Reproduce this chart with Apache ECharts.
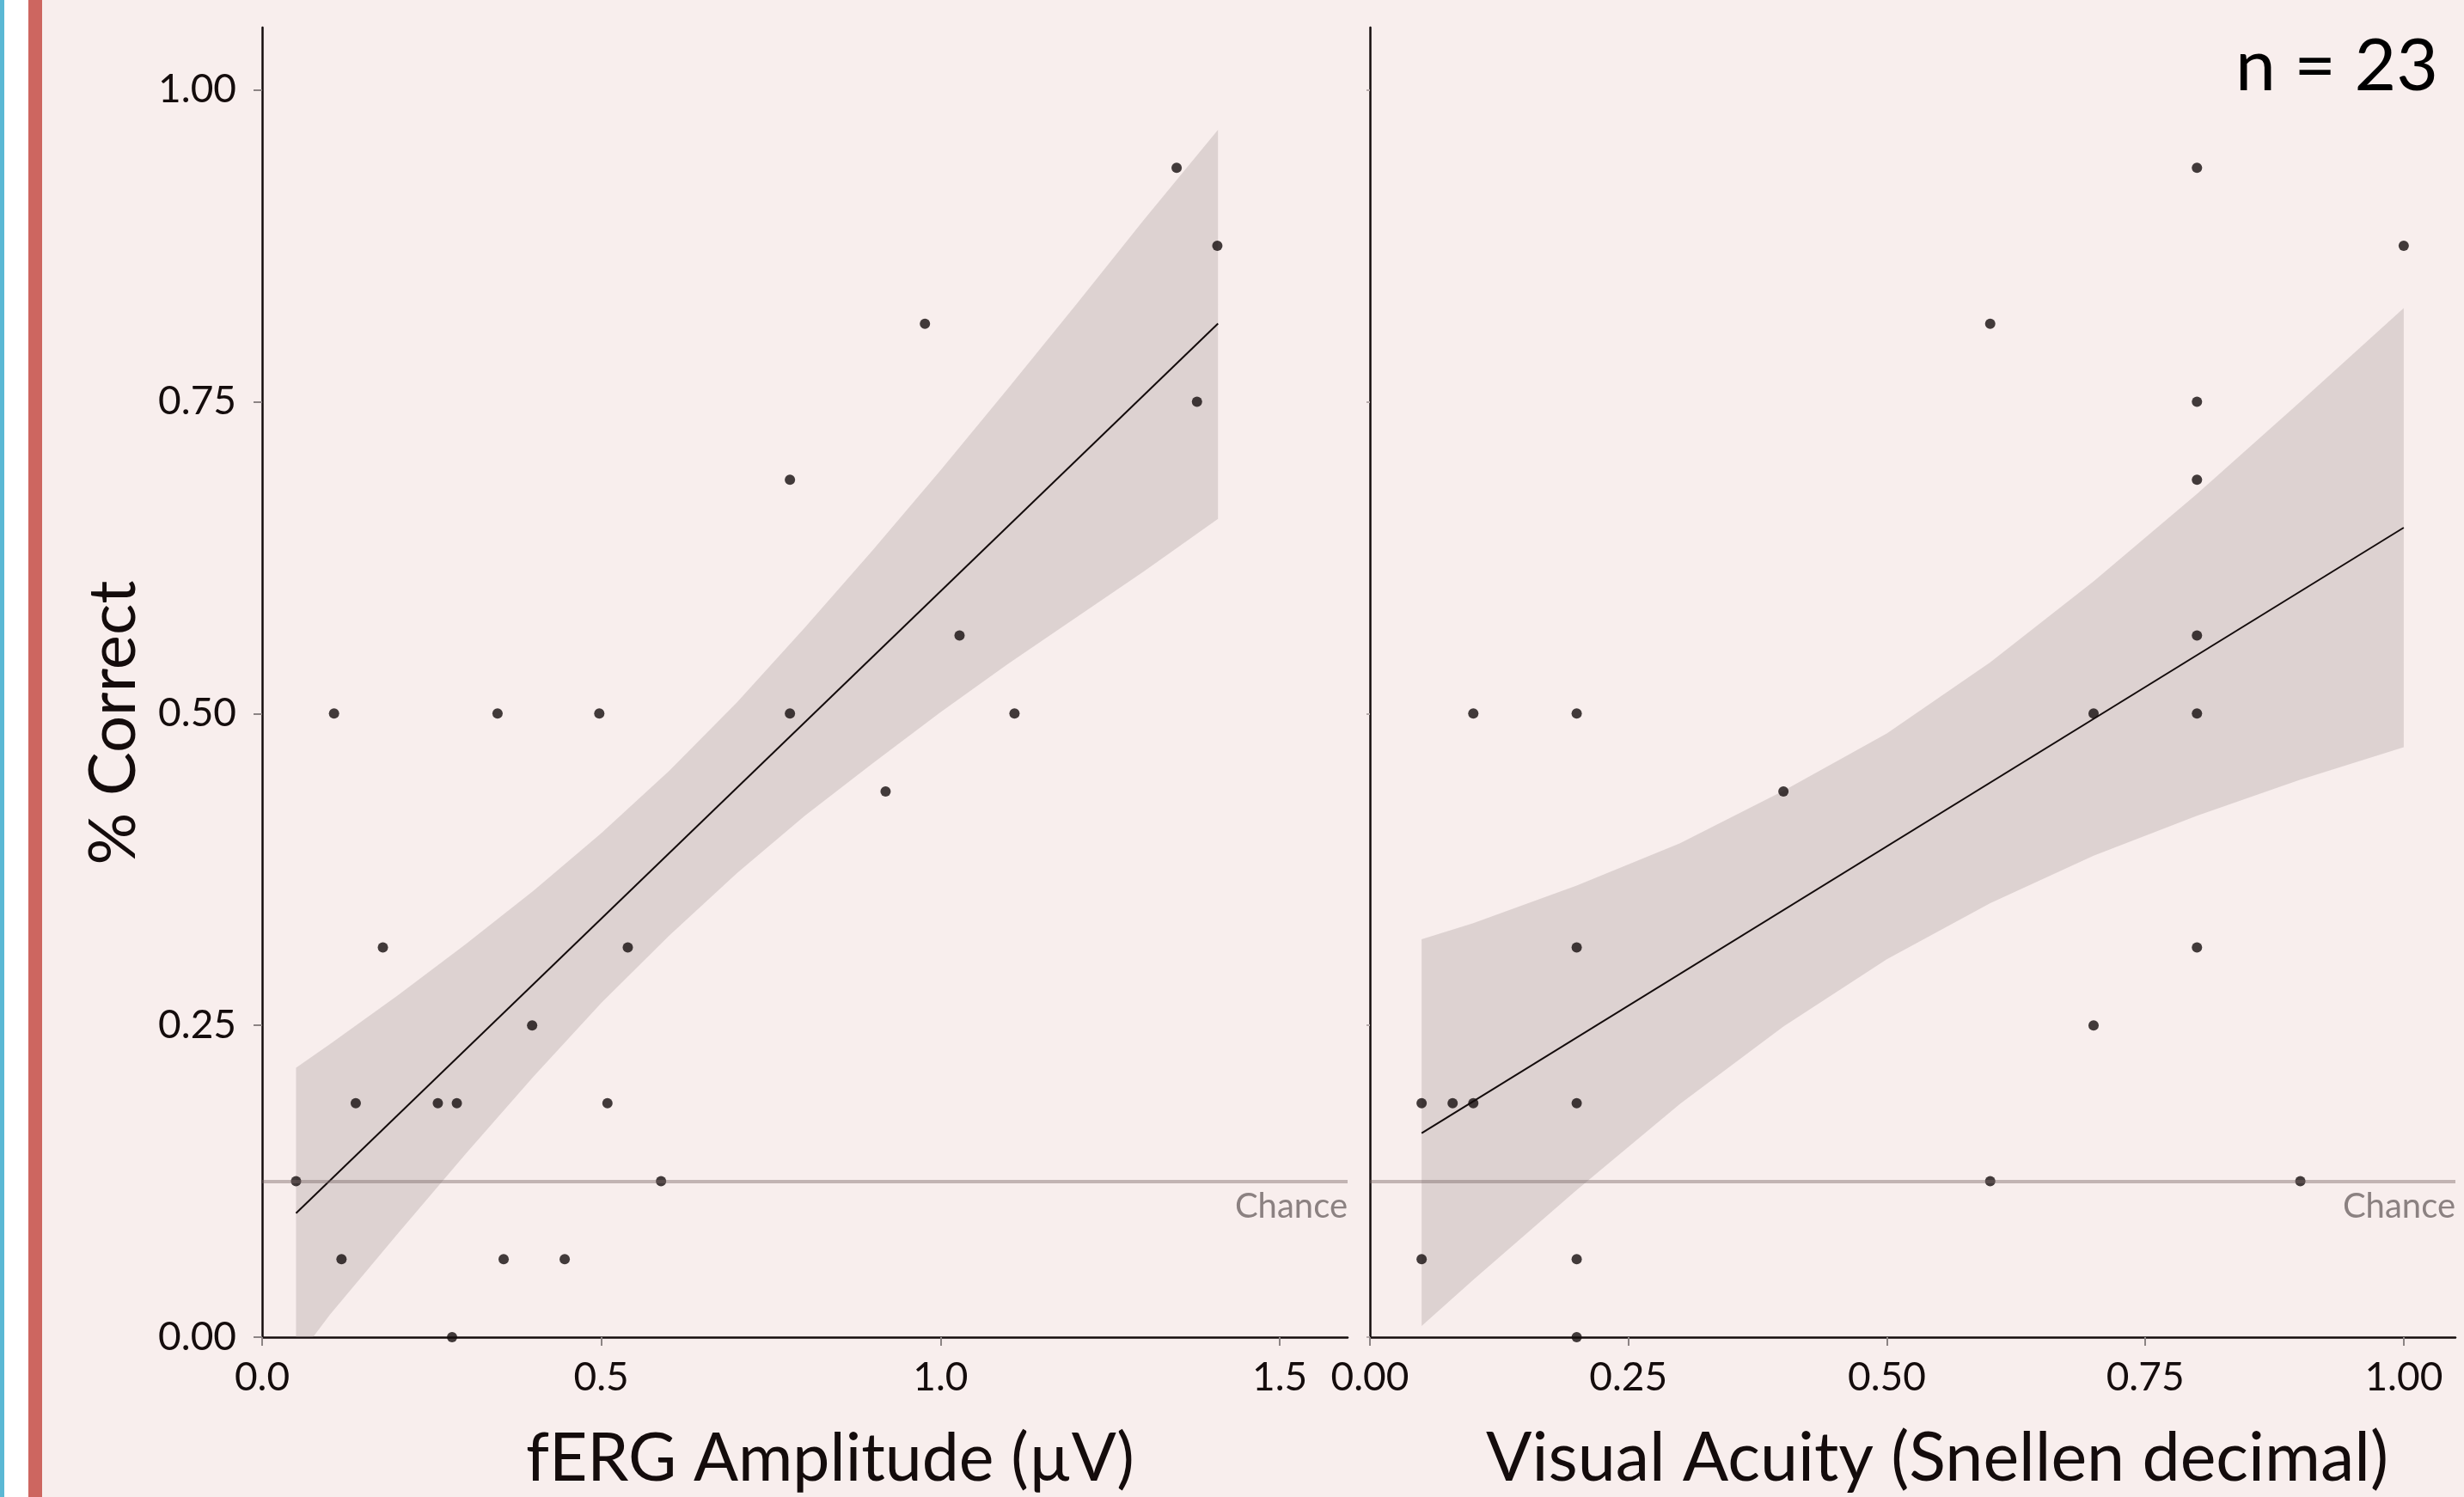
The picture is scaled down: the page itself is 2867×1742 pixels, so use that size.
<!DOCTYPE html>
<html>
<head>
<meta charset="utf-8">
<script src="https://cdn.jsdelivr.net/npm/echarts@6/dist/echarts.min.js"></script>
<style>
html,body{margin:0;padding:0;background:#ffffff;}
#chart{width:2867px;height:1742px;}
</style>
</head>
<body>
<div id="chart"></div>
<script>
// ---------- data ----------
var yTicks = [0, 0.25, 0.5, 0.75, 1.0];
var xTicksLeft = [0, 0.5, 1.0, 1.5];
var xTicksRight = [0, 0.25, 0.5, 0.75, 1.0];
var chance = 0.125;

// Left panel: fERG amplitude (µV) vs % correct
var fergX = [0.05, 0.106, 0.117, 0.138, 0.178, 0.259, 0.287, 0.28, 0.347, 0.356, 0.398, 0.446, 0.497, 0.509, 0.539, 0.588, 0.778, 0.778, 0.919, 0.977, 1.028, 1.109, 1.348, 1.378, 1.408];
var fergY = [0.125, 0.5, 0.0625, 0.1875, 0.3125, 0.1875, 0.1875, 0.0, 0.5, 0.0625, 0.25, 0.0625, 0.5, 0.1875, 0.3125, 0.125, 0.6875, 0.5, 0.4375, 0.8125, 0.5625, 0.5, 0.9375, 0.75, 0.875];
var fergFitX = [0.05, 1.409];
var fergFitY = [0.0994, 0.8126];
var fergUpperX = [0.05, 0.1, 0.2, 0.3, 0.4, 0.5, 0.6, 0.7, 0.8, 0.9, 1.0, 1.1, 1.2, 1.3, 1.409];
var fergUpperY = [0.216, 0.235, 0.274, 0.315, 0.358, 0.404, 0.454, 0.509, 0.569, 0.631, 0.695, 0.761, 0.828, 0.896, 0.968];
var fergLowerX = [1.409, 1.3, 1.2, 1.1, 1.0, 0.9, 0.8, 0.7, 0.6, 0.5, 0.4, 0.3, 0.2, 0.1, 0.075, 0.05];
var fergLowerY = [0.656, 0.614, 0.577, 0.540, 0.501, 0.460, 0.418, 0.372, 0.322, 0.268, 0.209, 0.147, 0.083, 0.018, 0.0, 0.0];

// Right panel: visual acuity (Snellen decimal) vs % correct
var vaX = [0.05, 0.05, 0.08, 0.1, 0.1, 0.2, 0.2, 0.2, 0.2, 0.2, 0.4, 0.6, 0.6, 0.7, 0.7, 0.8, 0.8, 0.8, 0.8, 0.8, 0.8, 0.9, 1.0];
var vaY = [0.1875, 0.0625, 0.1875, 0.1875, 0.5, 0.5, 0.3125, 0.1875, 0.0625, 0.0, 0.4375, 0.8125, 0.125, 0.5, 0.25, 0.9375, 0.75, 0.6875, 0.5625, 0.5, 0.3125, 0.125, 0.875];
var vaFitX = [0.05, 1.0];
var vaFitY = [0.1636, 0.649];
var vaUpperX = [0.05, 0.1, 0.2, 0.3, 0.4, 0.5, 0.6, 0.7, 0.8, 0.9, 1.0];
var vaUpperY = [0.319, 0.332, 0.362, 0.396, 0.438, 0.484, 0.541, 0.606, 0.676, 0.750, 0.825];
var vaLowerX = [1.0, 0.9, 0.8, 0.7, 0.6, 0.5, 0.4, 0.3, 0.2, 0.1, 0.05];
var vaLowerY = [0.473, 0.447, 0.418, 0.386, 0.348, 0.303, 0.249, 0.187, 0.118, 0.046, 0.009];

// ---------- helpers ----------
function zip(a, b) { return a.map(function (v, i) { return [v, b[i]]; }); }

var FONT = 'Lato';
var INK = '#140c0c';
var BAND = 'rgba(158,146,146,0.30)';

function bandSeries(ux, uy, lx, ly, idx) {
  return {
    type: 'custom', xAxisIndex: idx, yAxisIndex: idx, silent: true,
    data: [[ux[0], uy[0]]],
    renderItem: function (params, api) {
      var pts = [];
      for (var i = 0; i < ux.length; i++) pts.push(api.coord([ux[i], uy[i]]));
      for (var j = 0; j < lx.length; j++) pts.push(api.coord([lx[j], ly[j]]));
      return { type: 'polygon', shape: { points: pts }, style: { fill: BAND } };
    }
  };
}

function xAxisCfg(idx, max, ticks, digits) {
  return {
    type: 'value', gridIndex: idx, min: 0, max: max,
    axisLine: { show: true, onZero: false, lineStyle: { color: INK, width: 2.5 } },
    axisTick: { show: true, length: 10, customValues: ticks, lineStyle: { color: '#8c8484', width: 2 } },
    axisLabel: { show: true, customValues: ticks, margin: 24, fontFamily: FONT, fontSize: 46, color: INK,
      formatter: function (v) { return v.toFixed(digits); } },
    splitLine: { show: false }
  };
}
function yAxisCfg(idx, labels) {
  return {
    type: 'value', gridIndex: idx, min: 0, max: 1.05,
    axisLine: { show: true, onZero: false, lineStyle: { color: INK, width: 2.5 } },
    axisTick: { show: true, length: labels ? 10 : 4, customValues: yTicks, lineStyle: { color: labels ? '#8c8484' : '#b8acac', width: 2 } },
    axisLabel: { show: labels, customValues: yTicks, margin: 30, fontFamily: FONT, fontSize: 46, color: INK,
      formatter: function (v) { return v.toFixed(2); } },
    splitLine: { show: false }
  };
}

function chanceLine() {
  return {
    silent: true, symbol: 'none', precision: 6,
    lineStyle: { color: 'rgba(120,100,100,0.42)', width: 4, type: 'solid' },
    label: { show: true, position: 'insideEndBottom', formatter: 'Chance', fontFamily: FONT, fontSize: 40, color: '#8b8181', distance: [0, 10] },
    data: [{ yAxis: chance }]
  };
}

var chart = echarts.init(document.getElementById('chart'), null, { renderer: 'canvas' });
chart.setOption({
  backgroundColor: '#ffffff',
  animation: false,
  graphic: [
    { type: 'rect', left: 0, top: 0, shape: { x: 0, y: 0, width: 5, height: 1742 }, style: { fill: '#5bb8d4' }, z: -10 },
    { type: 'rect', left: 33, top: 0, shape: { x: 0, y: 0, width: 16, height: 1742 }, style: { fill: '#cd6660' }, z: -10 },
    { type: 'rect', left: 49, top: 0, shape: { x: 0, y: 0, width: 2818, height: 1742 }, style: { fill: '#f8eeed' }, z: -10 },
    { type: 'text', x: 132, y: 841, rotation: Math.PI / 2, z: 10,
      style: { text: '% Correct', fontFamily: FONT, fontSize: 76, fill: INK, align: 'center', verticalAlign: 'middle' } },
    { type: 'text', x: 966, y: 1698, z: 10,
      style: { text: 'fERG Amplitude (µV)', fontFamily: FONT, fontSize: 77, fill: INK, align: 'center', verticalAlign: 'middle' } },
    { type: 'text', x: 2254, y: 1698, z: 10,
      style: { text: 'Visual Acuity (Snellen decimal)', fontFamily: FONT, fontSize: 79, fill: INK, align: 'center', verticalAlign: 'middle' } },
    { type: 'text', x: 2837, y: 78, z: 10,
      style: { text: 'n = 23', fontFamily: FONT, fontSize: 84, fill: '#000000', align: 'right', verticalAlign: 'middle' } }
  ],
  grid: [
    { left: 305, top: 32, width: 1263, height: 1524 },
    { left: 1594, top: 32, width: 1263, height: 1524 }
  ],
  xAxis: [xAxisCfg(0, 1.6, xTicksLeft, 1), xAxisCfg(1, 1.05, xTicksRight, 2)],
  yAxis: [yAxisCfg(0, true), yAxisCfg(1, false)],
  series: [
    { type: 'scatter', xAxisIndex: 0, yAxisIndex: 0, data: zip(fergX, fergY), symbolSize: 12, itemStyle: { color: INK }, silent: true },
    bandSeries(fergUpperX, fergUpperY, fergLowerX, fergLowerY, 0),
    { type: 'line', xAxisIndex: 0, yAxisIndex: 0, data: zip(fergFitX, fergFitY), symbol: 'none', lineStyle: { color: INK, width: 2 }, silent: true, markLine: chanceLine() },
    { type: 'scatter', xAxisIndex: 1, yAxisIndex: 1, data: zip(vaX, vaY), symbolSize: 12, itemStyle: { color: INK }, silent: true },
    bandSeries(vaUpperX, vaUpperY, vaLowerX, vaLowerY, 1),
    { type: 'line', xAxisIndex: 1, yAxisIndex: 1, data: zip(vaFitX, vaFitY), symbol: 'none', lineStyle: { color: INK, width: 2 }, silent: true, markLine: chanceLine() }
  ]
});
</script>
</body>
</html>
